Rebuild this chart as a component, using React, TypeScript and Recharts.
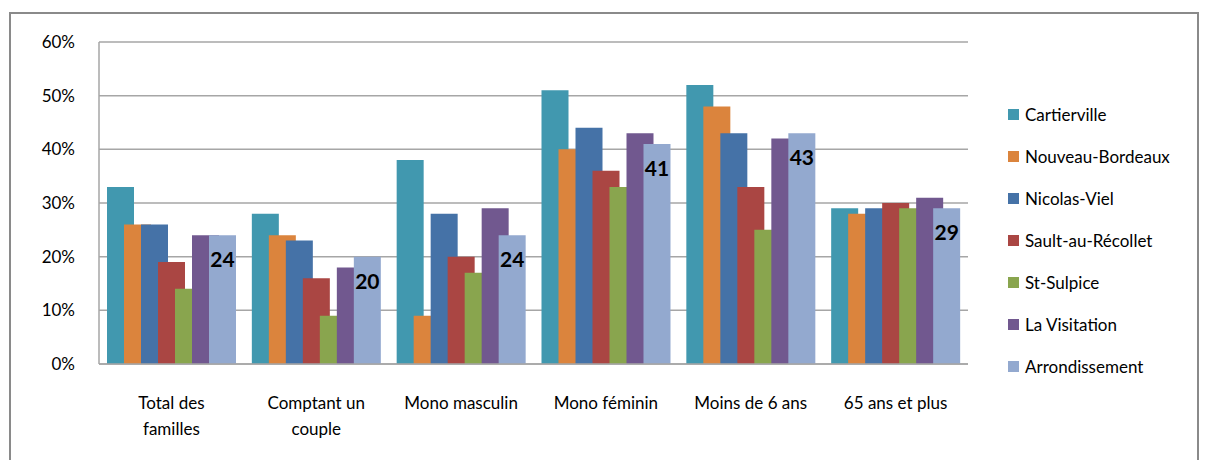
import { Bar, BarChart, CartesianGrid, LabelList, XAxis, YAxis } from 'recharts';

const CATEGORIES = [
  'Total des\nfamilles',
  'Comptant un\ncouple',
  'Mono masculin',
  'Mono féminin',
  'Moins de 6 ans',
  '65 ans et plus',
];

const CARTIERVILLE = [33, 28, 38, 51, 52, 29];
const NOUVEAU_BORDEAUX = [26, 24, 9, 40, 48, 28];
const NICOLAS_VIEL = [26, 23, 28, 44, 43, 29];
const SAULT_AU_RECOLLET = [19, 16, 20, 36, 33, 30];
const ST_SULPICE = [14, 9, 17, 33, 25, 29];
const LA_VISITATION = [24, 18, 29, 43, 42, 31];
const ARRONDISSEMENT = [24, 20, 24, 41, 43, 29];

const Y_TICKS = [0, 10, 20, 30, 40, 50, 60];

const SERIES = [
  { key: 'cartierville', label: 'Cartierville', color: '#4198AF', values: CARTIERVILLE },
  { key: 'nouveauBordeaux', label: 'Nouveau-Bordeaux', color: '#DB843D', values: NOUVEAU_BORDEAUX },
  { key: 'nicolasViel', label: 'Nicolas-Viel', color: '#4572A7', values: NICOLAS_VIEL },
  { key: 'saultAuRecollet', label: 'Sault-au-Récollet', color: '#AA4643', values: SAULT_AU_RECOLLET },
  { key: 'stSulpice', label: 'St-Sulpice', color: '#89A54E', values: ST_SULPICE },
  { key: 'laVisitation', label: 'La Visitation', color: '#71588F', values: LA_VISITATION },
  { key: 'arrondissement', label: 'Arrondissement', color: '#93A9CF', values: ARRONDISSEMENT },
];

const data = CATEGORIES.map((name, i) => {
  const row: Record<string, string | number> = { name };
  SERIES.forEach((s) => {
    row[s.key] = s.values[i];
  });
  return row;
});

const FONT = 'Lato, "Open Sans", sans-serif';

function CategoryTick({ x, y, payload }: any) {
  const lines = String(payload.value).split('\n');
  return (
    <text x={x} y={y + 37} textAnchor="middle" fill="#000" fontSize={17} fontFamily={FONT}>
      {lines.map((line, i) => (
        <tspan key={i} x={x} dy={i === 0 ? 0 : 26}>
          {line}
        </tspan>
      ))}
    </text>
  );
}

function PercentTick({ y, payload }: any) {
  return (
    <text x={75} y={y + 6} textAnchor="end" fill="#000" fontSize={17} fontFamily={FONT}>
      {payload.value}%
    </text>
  );
}

function LegendBox() {
  return (
    <div style={{ position: 'absolute', left: 1008, top: 93, fontFamily: FONT, fontSize: 17, color: '#000' }}>
      {SERIES.map((s) => (
        <div key={s.key} style={{ display: 'flex', alignItems: 'center', height: 42 }}>
          <span style={{ width: 11, height: 11, background: s.color, marginRight: 6 }} />
          <span>{s.label}</span>
        </div>
      ))}
    </div>
  );
}

export default function App() {
  return (
    <div style={{ position: 'absolute', left: 0, top: 0, width: 1205, height: 460, background: '#fff', overflow: 'hidden' }}>
      <div
        style={{
          position: 'absolute',
          left: 9,
          top: 12,
          width: 1190,
          height: 470,
          border: '2px solid #8a8a8a',
          boxSizing: 'border-box',
        }}
      />
      <BarChart
        width={1205}
        height={460}
        data={data}
        margin={{ top: 42, right: 237, bottom: 36, left: 39 }}
        barSize={27}
        barGap={-10}
      >
        <CartesianGrid vertical={false} stroke="#a6a6a6" strokeWidth={1.5} />
        <XAxis
          dataKey="name"
          height={60}
          tickLine={false}
          axisLine={{ stroke: '#a6a6a6', strokeWidth: 1.5 }}
          tick={<CategoryTick />}
          interval={0}
        />
        <YAxis
          width={60}
          domain={[0, 60]}
          ticks={Y_TICKS}
          tickLine={false}
          axisLine={{ stroke: '#a6a6a6', strokeWidth: 1.5 }}
          tick={<PercentTick />}
        />
        {SERIES.map((s) => (
          <Bar key={s.key} dataKey={s.key} name={s.label} fill={s.color} isAnimationActive={false}>
            {s.key === 'arrondissement' && (
              <LabelList
                dataKey={s.key}
                position="insideTop"
                offset={17}
                fill="#000"
                fontSize={21}
                fontWeight="bold"
                fontFamily={FONT}
              />
            )}
          </Bar>
        ))}
      </BarChart>
      <LegendBox />
    </div>
  );
}
